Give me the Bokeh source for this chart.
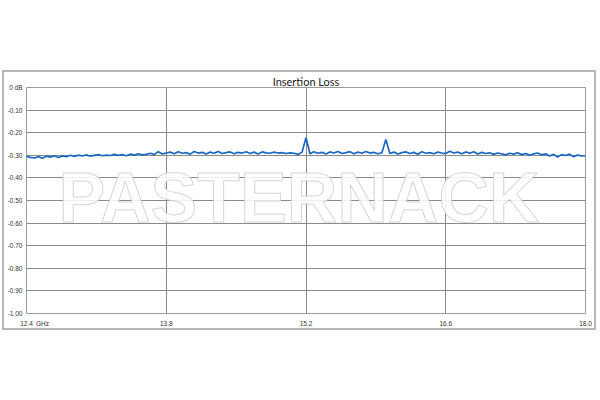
import numpy as np
from bokeh.plotting import figure
from bokeh.models import FixedTicker, Spacer, Range1d
from bokeh.layouts import column, row
from bokeh.embed import file_html
from bokeh.resources import INLINE
from bokeh.core.properties import value

title_text = "Insertion Loss"
freq_start = 12.4
freq_stop = 18.0
x_ticks = [12.4, 13.8, 15.2, 16.6, 18.0]
x_tick_labels = {12.4: "12.4", 12.56: "GHz", 13.8: "13.8", 15.2: "15.2", 16.6: "16.6", 18.0: "18.0"}
y_ticks = [0.0, -0.1, -0.2, -0.3, -0.4, -0.5, -0.6, -0.7, -0.8, -0.9, -1.0]
y_tick_labels = {0.0: "0 dB", -0.1: "-0.10", -0.2: "-0.20", -0.3: "-0.30", -0.4: "-0.40",
                 -0.5: "-0.50", -0.6: "-0.60", -0.7: "-0.70", -0.8: "-0.80", -0.9: "-0.90", -1.0: "-1.00"}
watermark = "PASTERNACK"

loss_db = [
    -0.305, -0.309, -0.312, -0.306, -0.313, -0.304, -0.308, -0.302, -0.310, -0.303, -0.306,
    -0.300, -0.305, -0.299, -0.303, -0.298, -0.304, -0.300, -0.297, -0.302, -0.299,
    -0.301, -0.296, -0.300, -0.297, -0.302, -0.295, -0.299, -0.293, -0.298, -0.296, -0.291, -0.297, -0.284, -0.294, -0.290,
    -0.286, -0.293, -0.284, -0.291, -0.288, -0.295, -0.283, -0.290, -0.287, -0.294, -0.286, -0.291, -0.283, -0.292,
    -0.288, -0.285, -0.293, -0.287, -0.290, -0.284, -0.292, -0.286, -0.294, -0.285, -0.289, -0.291, -0.286, -0.290,
    -0.288, -0.292, -0.289, -0.291, -0.296, -0.287,
    -0.222,
    -0.293, -0.284, -0.291, -0.287, -0.294, -0.285, -0.290, -0.283, -0.292, -0.288, -0.284, -0.293, -0.286, -0.291,
    -0.283, -0.290, -0.287, -0.293, -0.289,
    -0.230,
    -0.292, -0.286, -0.294, -0.288, -0.285, -0.292, -0.287, -0.295, -0.284, -0.291, -0.288, -0.293, -0.286, -0.290, -0.292,
    -0.282, -0.290, -0.286, -0.293, -0.285, -0.291, -0.284, -0.294, -0.287, -0.292, -0.289, -0.296, -0.290, -0.293,
    -0.298, -0.291, -0.295, -0.289, -0.297, -0.292, -0.299, -0.294, -0.290, -0.298, -0.293, -0.303, -0.296, -0.308,
    -0.297, -0.301, -0.295, -0.306, -0.299, -0.303, -0.302,
]
freq = np.linspace(freq_start, freq_stop, len(loss_db))

p = figure(width=594, height=260, output_backend="svg", toolbar_location=None,
           x_range=Range1d(freq_start, freq_stop), y_range=Range1d(-1.0, 0.0),
           min_border_left=19, min_border_right=13, min_border_top=13, min_border_bottom=19,
           title=title_text)
p.styles = {"border": "2px solid #b8b8b8", "box-sizing": "border-box"}
p.title.align = "center"
p.title.text_font = "Lato"
p.title.text_font_size = "11px"
p.title.text_font_style = "normal"
p.title.text_color = "#222222"
p.title.standoff = 0

p.outline_line_color = "#9a9a9a"
p.outline_line_width = 1

for ax in (p.xaxis[0], p.yaxis[0]):
    ax.axis_line_color = None
    ax.major_tick_line_color = None
    ax.minor_tick_line_color = None
    ax.major_tick_out = 0
    ax.major_tick_in = 0
    ax.minor_tick_out = 0
    ax.minor_tick_in = 0
    ax.axis_label_standoff = 0
    ax.major_label_text_font = "Liberation Sans"
    ax.major_label_text_font_size = "6.5px"
    ax.major_label_text_color = "#333333"

p.xaxis.ticker = FixedTicker(ticks=[12.4, 12.56, 13.8, 15.2, 16.6, 18.0])
p.xaxis.major_label_overrides = x_tick_labels
p.xaxis.major_label_standoff = 6
p.yaxis.ticker = FixedTicker(ticks=y_ticks)
p.yaxis.major_label_overrides = y_tick_labels
p.yaxis.major_label_standoff = 4

p.xgrid.ticker = FixedTicker(ticks=x_ticks[1:-1])
p.ygrid.ticker = FixedTicker(ticks=y_ticks[1:-1])
p.grid.grid_line_color = "#8a8a8a"
p.grid.grid_line_width = 1

# watermark
wm_x = [15.13]
wm_y = [-0.49]
p.text(x=wm_x, y=wm_y, text=[watermark], text_align="center", text_baseline="middle",
       text_font=value("Liberation Sans"), text_font_style="bold", text_font_size="70px",
       text_color="white", text_alpha=0.85, text_outline_color="#cfcfcf")

p.line(freq, loss_db, line_color="#1b68c4", line_width=1.7)

layout = column(Spacer(height=70, width=598), row(Spacer(width=2, height=260), p))
open("out.html", "w").write(file_html(layout, INLINE))
